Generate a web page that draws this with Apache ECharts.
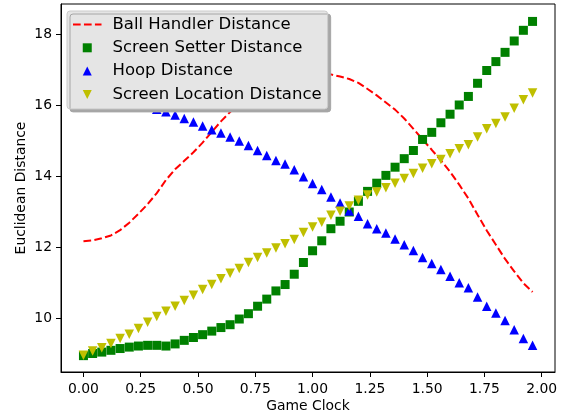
<!DOCTYPE html>
<html>
<head>
<meta charset="utf-8">
<script src="https://cdn.jsdelivr.net/npm/echarts@6/dist/echarts.min.js"></script>
<style>
  html, body { margin: 0; padding: 0; background: #fff; }
  #chart { width: 565px; height: 418px; }
</style>
</head>
<body>
<div id="chart"></div>
<script>
// game clock samples (x)
const gameClock = [
  0.00, 0.04, 0.08, 0.12, 0.16, 0.20, 0.24, 0.28, 0.32, 0.36,
  0.40, 0.44, 0.48, 0.52, 0.56, 0.60, 0.64, 0.68, 0.72, 0.76,
  0.80, 0.84, 0.88, 0.92, 0.96, 1.00, 1.04, 1.08, 1.12, 1.16,
  1.20, 1.24, 1.28, 1.32, 1.36, 1.40, 1.44, 1.48, 1.52, 1.56,
  1.60, 1.64, 1.68, 1.72, 1.76, 1.80, 1.84, 1.88, 1.92, 1.96
];

const ballHandler = [
  12.18, 12.20, 12.26, 12.34, 12.49, 12.70, 12.95, 13.22, 13.53, 13.90,
  14.20, 14.44, 14.68, 14.95, 15.25, 15.55, 15.81, 16.05, 16.28, 16.47,
  16.62, 16.74, 16.83, 16.89, 16.92, 16.93, 16.91, 16.87, 16.81, 16.74,
  16.63, 16.46, 16.28, 16.08, 15.88, 15.63, 15.34, 15.04, 14.75, 14.45,
  14.13, 13.77, 13.38, 12.92, 12.48, 12.08, 11.68, 11.33, 11.00, 10.75
];

const screenSetter = [
  8.96, 9.02, 9.06, 9.11, 9.16, 9.20, 9.23, 9.25, 9.25, 9.23,
  9.29, 9.39, 9.47, 9.55, 9.65, 9.75, 9.83, 9.99, 10.14, 10.35,
  10.55, 10.78, 10.96, 11.25, 11.58, 11.91, 12.19, 12.53, 12.74, 13.00,
  13.30, 13.58, 13.81, 14.03, 14.26, 14.50, 14.73, 15.04, 15.24, 15.51,
  15.75, 16.01, 16.25, 16.62, 16.98, 17.23, 17.49, 17.81, 18.11, 18.36
];

const hoop = [
  16.42, 16.37, 16.32, 16.26, 16.19, 16.12, 16.05, 15.98, 15.89, 15.82,
  15.73, 15.63, 15.53, 15.42, 15.31, 15.22, 15.11, 15.00, 14.87, 14.73,
  14.59, 14.45, 14.35, 14.19, 13.99, 13.80, 13.63, 13.42, 13.25, 13.03,
  12.88, 12.67, 12.53, 12.41, 12.24, 12.08, 11.92, 11.72, 11.55, 11.38,
  11.19, 11.01, 10.87, 10.61, 10.35, 10.16, 9.95, 9.69, 9.44, 9.25
];

const screenLocation = [
  8.97, 9.09, 9.18, 9.30, 9.44, 9.56, 9.72, 9.90, 10.06, 10.21,
  10.35, 10.51, 10.66, 10.82, 10.96, 11.12, 11.28, 11.41, 11.58, 11.72,
  11.85, 11.99, 12.11, 12.23, 12.42, 12.58, 12.71, 12.91, 13.02, 13.17,
  13.33, 13.48, 13.56, 13.68, 13.81, 13.94, 14.08, 14.23, 14.36, 14.48,
  14.64, 14.78, 14.89, 15.11, 15.34, 15.49, 15.67, 15.92, 16.16, 16.35
];

const xTicks = [0, 0.25, 0.5, 0.75, 1.0, 1.25, 1.5, 1.75, 2.0];
const yTicks = [10, 12, 14, 16, 18];

const FONT = 'DejaVu Sans';

// legend icons (square aspect kept inside the wide item box)
const ICON_DASH = 'path://M0,0h7.7v2h-7.7z M11,0h7.7v2h-7.7z M22,0h6.6v2h-6.6z';
const ICON_SQUARE = 'path://M0,0L10,0L10,10L0,10Z';
const ICON_UP = 'path://M5,0L10,10L0,10Z';
const ICON_DOWN = 'path://M0,0L10,0L5,10Z';

// pair x with y for value axes
function pairs(ys) {
  return gameClock.map((t, i) => [t, ys[i]]);
}

const chart = echarts.init(document.getElementById('chart'), null, { renderer: 'canvas' });

const axisCommon = {
  type: 'value',
  axisLine: { show: true, onZero: false, lineStyle: { color: '#000', width: 1 } },
  axisTick: { show: true, inside: false, length: 5, lineStyle: { color: '#000', width: 1 } },
  splitLine: { show: false },
  nameLocation: 'middle',
  nameMoveOverlap: false,
  nameTextStyle: { fontFamily: FONT, fontSize: 13.9, color: '#000' }
};

chart.setOption({
  animation: false,
  backgroundColor: '#fff',
  grid: {
    left: 61, right: 10, top: 4, bottom: 46,
    show: true, borderColor: '#000', borderWidth: 1, backgroundColor: 'transparent'
  },
  xAxis: Object.assign({}, axisCommon, {
    min: -0.098, max: 2.058,
    name: 'Game Clock', nameGap: 27,
    axisTick: Object.assign({}, axisCommon.axisTick, { customValues: xTicks }),
    axisLabel: {
      customValues: xTicks, margin: 10,
      fontFamily: FONT, fontSize: 13.9, color: '#000',
      formatter: v => v.toFixed(2)
    }
  }),
  yAxis: Object.assign({}, axisCommon, {
    min: 8.5, max: 18.85,
    name: 'Euclidean Distance', nameGap: 33,
    axisTick: Object.assign({}, axisCommon.axisTick, { customValues: yTicks }),
    axisLabel: {
      customValues: yTicks, margin: 9,
      fontFamily: FONT, fontSize: 13.9, color: '#000',
      formatter: v => String(v)
    }
  }),
  legend: {
    orient: 'vertical',
    left: 67, top: 11,
    padding: [5, 6, 6, 6],
    itemWidth: 28.5, itemHeight: 9, itemGap: 6.3,
    symbolKeepAspect: true,
    backgroundColor: '#e5e5e5',
    borderColor: '#cccccc', borderWidth: 1, borderRadius: 3,
    shadowColor: '#a6a6a6', shadowOffsetX: 3, shadowOffsetY: 3, shadowBlur: 0,
    selectedMode: false,
    z: 10,
    textStyle: { fontFamily: FONT, fontSize: 16.5, color: '#000', lineHeight: 16, padding: [0, 0, 0, 6] },
    data: [
      { name: 'Ball Handler Distance', icon: ICON_DASH, symbolRotate: 0, itemStyle: { color: '#ff0000', borderWidth: 0 } },
      { name: 'Screen Setter Distance', icon: ICON_SQUARE, symbolRotate: 0, itemStyle: { color: '#008000', borderWidth: 0 } },
      { name: 'Hoop Distance', icon: ICON_UP, symbolRotate: 0, itemStyle: { color: '#0000ff', borderWidth: 0 } },
      { name: 'Screen Location Distance', icon: ICON_DOWN, symbolRotate: 0, itemStyle: { color: '#bfbf00', borderWidth: 0 } }
    ]
  },
  series: [
    {
      name: 'Ball Handler Distance', type: 'line', z: 2,
      data: pairs(ballHandler),
      symbol: 'none', showSymbol: false, smooth: false,
      lineStyle: { color: '#ff0000', width: 2, type: [7.7, 3.3] },
      itemStyle: { color: '#ff0000' }
    },
    {
      name: 'Screen Setter Distance', type: 'scatter', z: 3,
      data: pairs(screenSetter),
      symbol: 'rect', symbolSize: 9,
      itemStyle: { color: '#008000', opacity: 1 }
    },
    {
      name: 'Hoop Distance', type: 'scatter', z: 4,
      data: pairs(hoop),
      symbol: 'triangle', symbolSize: 9.5,
      itemStyle: { color: '#0000ff', opacity: 1 }
    },
    {
      name: 'Screen Location Distance', type: 'scatter', z: 5,
      data: pairs(screenLocation),
      symbol: 'triangle', symbolSize: 9.5, symbolRotate: 180,
      itemStyle: { color: '#bfbf00', opacity: 1 }
    }
  ]
});
</script>
</body>
</html>
